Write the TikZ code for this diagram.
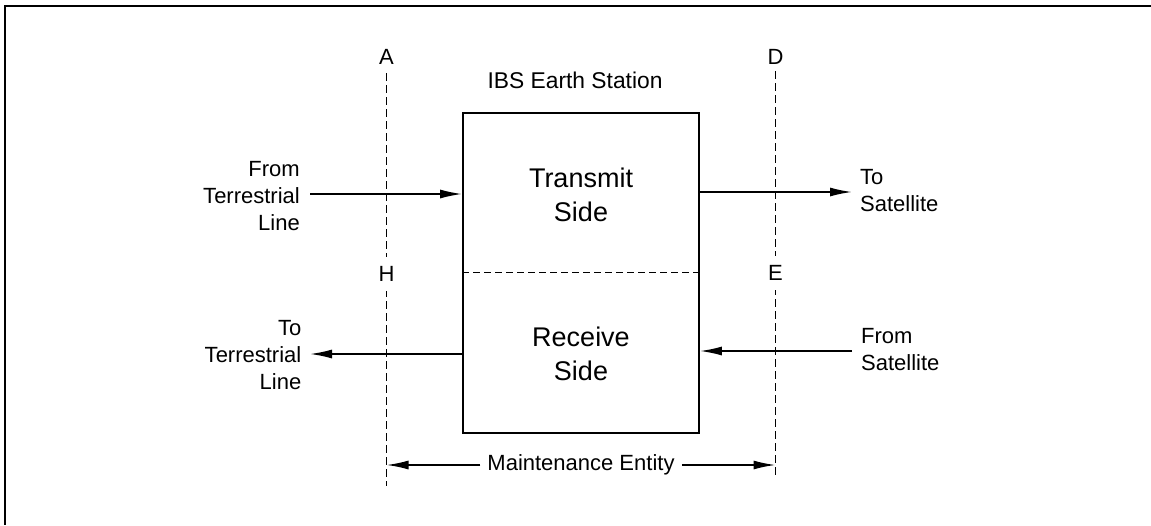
\documentclass[tikz,border=0pt]{standalone}
\usepackage{fontspec}
\setmainfont{Liberation Sans}
\usetikzlibrary{arrows.meta}
\begin{document}
\begin{tikzpicture}[x=1pt,y=-1pt,
  small/.style={font=\fontsize{22}{27}\selectfont, inner sep=0pt},
  big/.style={font=\fontsize{27}{34}\selectfont, inner sep=0pt, align=center},
  refline/.style={line width=1pt, dash pattern=on 8pt off 4pt},
  flow/.style={line width=1.7pt, -{Latex[length=22pt,width=9pt]}},
  station/.style={draw, line width=1.8pt, minimum width=236pt, minimum height=320pt, inner sep=0pt},
  letter/.style={font=\fontsize{22}{26}\selectfont, inner sep=4pt, fill=white}]
\useasboundingbox (0,0) rectangle (1151,525);
% partial frame
\draw[line width=2.5pt] (1151,6) -- (5,6) -- (5,525);
% reference points (dashed lines)
\coordinate (aTop) at (386.5,73);
\coordinate (aBot) at (386.5,486);
\coordinate (dTop) at (775.5,71);
\coordinate (dBot) at (775.5,478);
\draw[refline] (aTop) -- (aBot);
\draw[refline] (dTop) -- (dBot);
\node[letter] (lA) at (386.5,57) {A};
\node[letter] (lD) at (775.5,57) {D};
\node[letter, inner ysep=9pt] (lH) at (386.5,274) {H};
\node[letter, inner ysep=9pt] (lE) at (775.5,273) {E};
% station box
\node[station] (box) at (581,272.8) {};
\draw[line width=1pt, dash pattern=on 7pt off 4pt] (box.west |- 0,272.8) -- (box.east |- 0,272.8);
\node[small, font=\fontsize{22.8}{27}\selectfont] (title) at (575,80) {IBS Earth Station};
\node[big] (tx) at (581,195) {Transmit\\Side};
\node[big] (rx) at (581,353.5) {Receive\\Side};
% left labels
\node[small, align=right, anchor=east] (fromT) at (300,196) {From\\Terrestrial\\Line};
\node[small, align=right, anchor=east] (toT) at (301.5,355) {To\\Terrestrial\\Line};
% right labels
\node[small, align=left, anchor=west] (toS) at (860,191) {To\\Satellite};
\node[small, align=left, anchor=west] (fromS) at (861,350) {From\\Satellite};
% flows
\coordinate (inL) at (310,194);
\coordinate (outR) at (852,192);
\coordinate (inR) at (852,351);
\coordinate (outL) at (310,354);
\draw[flow] (inL) -- (inL -| box.west);
\draw[flow] (outR -| box.east) -- (outR);
\draw[flow] (inR) -- (inR -| box.east);
\draw[flow] (outL -| box.west) -- (outL);
% maintenance entity
\node[small, fill=white, inner xsep=7pt] (me) at (581,465) {Maintenance Entity};
\draw[flow] (me.west) -- (me.west -| aTop);
\draw[flow] (me.east) -- (me.east -| dTop);
\end{tikzpicture}
\end{document}
